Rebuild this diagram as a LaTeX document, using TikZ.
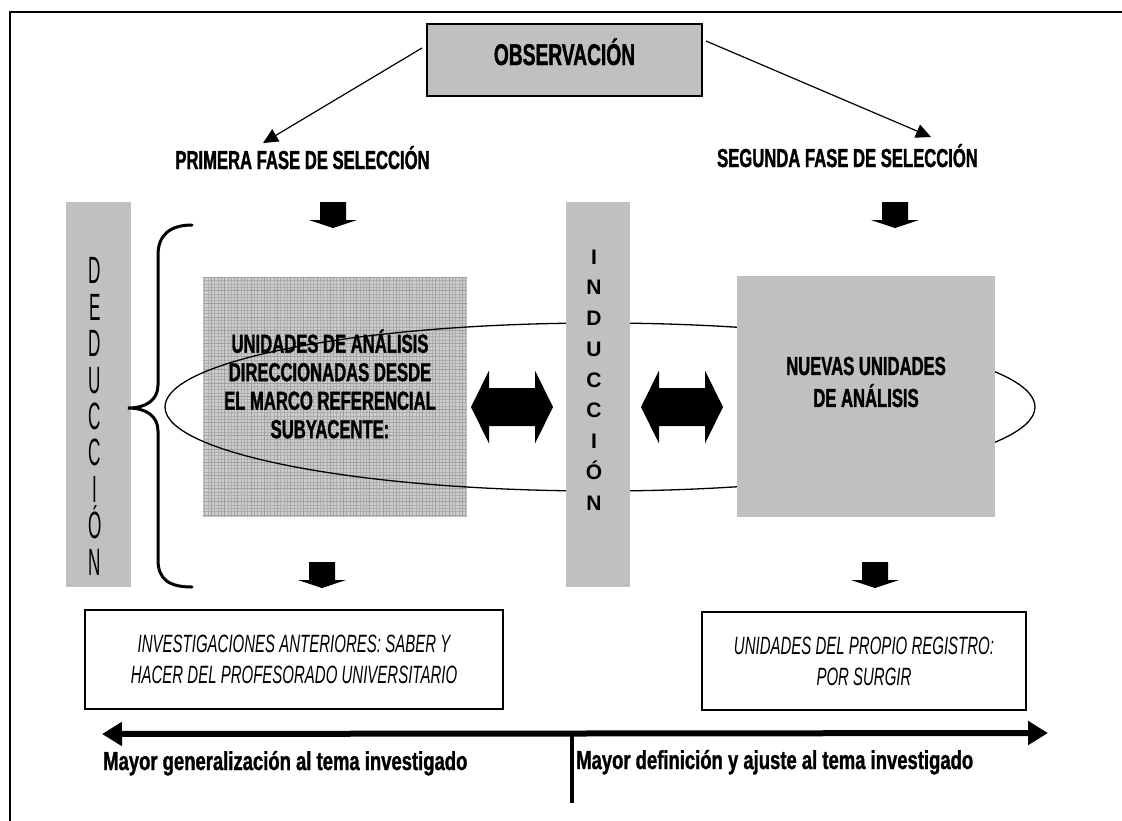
\documentclass[tikz,border=0pt]{standalone}
\usepackage{fontspec}
\usetikzlibrary{arrows.meta}
\newfontfamily\agbold{Liberation Sans Bold}[FakeStretch=0.64,FakeBold=1.2]
\newfontfamily\agboldw{Liberation Sans Bold}[FakeStretch=0.71,FakeBold=1.2]
\newfontfamily\agit{Liberation Sans Italic}[FakeStretch=0.6]
\newfontfamily\agthin{Liberation Sans}[FakeStretch=0.45]
\newfontfamily\arialbold{Liberation Sans Bold}
\definecolor{boxgray}{HTML}{C0C0C0}
\definecolor{hatchbg}{HTML}{CDCDCD}
\definecolor{hatchln}{HTML}{A0A0A0}
\tikzset{
  graybar/.style={fill=boxgray, draw=none, inner sep=0pt, outer sep=0pt},
  framebox/.style={draw=black, line width=1.5pt, fill=white, inner sep=0pt},
  headfont/.style={font=\agbold\fontsize{26}{28}\selectfont, inner sep=0pt},
  thinarrow/.style={line width=1.2pt, -{Triangle[length=15pt,width=14pt]}},
  downblk/.pic={\fill[black] (-13,0) -- (13,0) -- (13,18) -- (24,18) -- (0,26) -- (-24,18) -- (-13,18) -- cycle;},
  dblblk/.pic={\fill[black] (-41,0) -- (-23,-36.5) -- (-23,-19) -- (23,-19) -- (23,-36.5) -- (41,0) -- (23,36.5) -- (23,19) -- (-23,19) -- (-23,36.5) -- cycle;}
}
\begin{document}
\begin{tikzpicture}[x=1pt,y=-1pt]
\useasboundingbox (0,0) rectangle (1122,820);
\fill[white] (0,0) rectangle (1122,820);
% outer frame (cropped)
\draw[line width=1.5pt] (10,822) -- (10,12) -- (1124,12);

% hatched box
\node[fill=hatchbg, minimum width=264pt, minimum height=240pt, inner sep=0pt] (hatch) at (335,397) {};
\begin{scope}
  \clip (hatch.south west) rectangle (hatch.north east);
  \draw[hatchln!70!hatchbg, line width=0.35pt] (hatch.south west) grid[step=3.3pt] (hatch.north east);
  \draw[hatchln, line width=0.5pt] (hatch.south west) grid[step=13.2pt] (hatch.north east);
\end{scope}

% ellipse
\draw[line width=1.3pt] (600,407) ellipse [x radius=435pt, y radius=84pt];

% gray bars and box
\node[graybar, minimum width=65pt, minimum height=385pt] (ded) at (98.5,394.5) {};
\node[graybar, minimum width=64pt, minimum height=385pt] (ind) at (598,394.5) {};
\node[graybar, minimum width=258pt, minimum height=241pt] (nuevas) at (866,396.5) {};

% observation box
\node[fill=boxgray, draw=black, line width=1.5pt, minimum width=275pt, minimum height=72pt,
      inner sep=0pt, font=\agbold\fontsize{30}{30}\selectfont, text height=30pt, text depth=20pt]
      (obs) at (564.5,60) {OBSERVACIÓN};

% phase labels
\node[headfont, anchor=base] (prim) at (302.5,169) {PRIMERA FASE DE SELECCIÓN};
\node[headfont, anchor=base] (seg) at (847.5,167) {SEGUNDA FASE DE SELECCIÓN};

\coordinate (obsL) at (422,48);
\coordinate (primT) at (263,143);
\coordinate (obsR) at (706,41);
\coordinate (segT) at (931,137);
\draw[thinarrow] (obsL) -- (primT);
\draw[thinarrow] (obsR) -- (segT);

% block arrows
\pic at (333,202) {downblk};
\pic at (895,202) {downblk};
\pic at (322,562) {downblk};
\pic at (875,562) {downblk};
\pic at (512,407) {dblblk};
\pic at (682,407) {dblblk};

% texts in boxes
\node[headfont, align=center, font=\agbold\fontsize{26}{28.5}\selectfont] (hatcht) at (330,384)
  {UNIDADES DE ANÁLISIS\\DIRECCIONADAS DESDE\\EL MARCO REFERENCIAL\\SUBYACENTE:};
\node[headfont, align=center, font=\agbold\fontsize{26}{32}\selectfont] (nuevast) at (866,382)
  {NUEVAS UNIDADES\\DE ANÁLISIS};

% vertical letters
\node[inner sep=0pt, align=center, font=\agthin\fontsize{38}{36.4}\selectfont] (dedt) at (95,416.5)
  {D\\E\\D\\U\\C\\C\\I\\Ó\\N};
\node[inner sep=0pt, align=center, font=\arialbold\fontsize{21}{30.75}\selectfont] (indt) at (594,380)
  {I\\N\\D\\U\\C\\C\\I\\Ó\\N};

% brace
\draw[line width=3pt, line cap=round] (192,225) .. controls (170,225) and (158,235) .. (158,255)
  -- (158,385) .. controls (158,400) and (146,408) .. (128,408)
  .. controls (146,408) and (158,416) .. (158,431)
  -- (158,560) .. controls (158,580) and (170,587) .. (192,587);

% bottom boxes
\node[framebox, minimum width=418pt, minimum height=99pt, align=center,
      font=\agit\fontsize{25}{31}\selectfont] (invest) at (294,659.5)
  {INVESTIGACIONES ANTERIORES: SABER Y\\HACER DEL PROFESORADO UNIVERSITARIO};
\node[framebox, minimum width=324pt, minimum height=98pt, align=center,
      font=\agit\fontsize{25}{31}\selectfont] (propio) at (864,661)
  {UNIDADES DEL PROPIO REGISTRO:\\POR SURGIR};

% scale arrow
\coordinate (scL) at (102,734);
\coordinate (scR) at (1048,733);
\draw[line width=6pt, {Triangle[length=20pt,width=23pt]}-{Triangle[length=20pt,width=23pt]}] (scL) -- (scR);
\coordinate (vT) at (572,735);
\coordinate (vB) at (572,803);
\draw[line width=4pt] (vT) -- (vB);

\node[inner sep=0pt, anchor=base west, font=\agboldw\fontsize{26}{28}\selectfont] (lab1) at (103,770)
  {Mayor generalización al tema investigado};
\node[inner sep=0pt, anchor=base west, font=\agboldw\fontsize{26}{28}\selectfont] (lab2) at (576,769)
  {Mayor definición y ajuste al tema investigado};
\end{tikzpicture}
\end{document}
